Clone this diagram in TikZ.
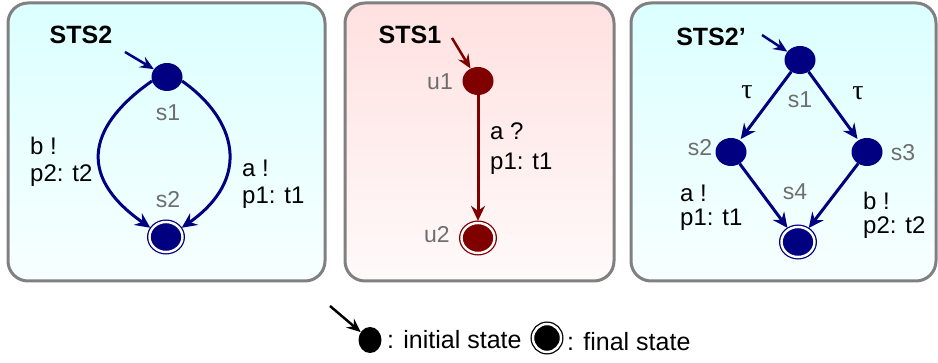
\documentclass[tikz,border=0pt]{standalone}
\usepackage{fontspec}
\setmainfont{Liberation Sans}
\newfontfamily\taufont{Liberation Serif}
\usetikzlibrary{arrows.meta,shapes.geometric}
\definecolor{stsblue}{HTML}{000080}
\definecolor{stsred}{HTML}{800000}
\definecolor{lblgray}{HTML}{6E6E6E}
\definecolor{boxgray}{HTML}{808080}
\begin{document}
\begin{tikzpicture}[x=1pt,y=1pt,
  panel/.style={draw=boxgray,line width=3pt,rounded corners=20pt},
  st/.style={ellipse,fill=#1,minimum width=31pt,minimum height=28pt,inner sep=0pt},
  fin/.style={ellipse,fill=#1,draw=#1,double=white,line width=1.3pt,double distance=2.4pt,minimum width=33pt,minimum height=30pt,inner sep=0pt},
  tr/.style={line width=3pt,shorten >=1.5pt,-{Stealth[length=15pt,width=14pt,inset=5pt]}},
  init/.style={line width=2.5pt,-{Stealth[length=14pt,width=12pt,inset=5pt]}},
  title/.style={font=\fontsize{25}{30}\selectfont\bfseries,inner sep=0pt},
  lbl/.style={font=\fontsize{24}{27}\selectfont,align=left,anchor=north west,inner sep=0pt},
  sname/.style={font=\fontsize{23}{26}\selectfont,text=lblgray,inner sep=0pt},
  legend/.style={font=\fontsize{25}{28}\selectfont,anchor=west,inner sep=0pt}]
\useasboundingbox (0,0) rectangle (938,-363);
% panels
\path[panel,top color=cyan!14,bottom color=cyan!3] (8,-3) rectangle (325,-281);
\path[panel,top color=red!12,bottom color=red!2] (345,-3) rectangle (614,-281);
\path[panel,top color=cyan!14,bottom color=cyan!3] (631,-3) rectangle (936,-281);
% STS2
\node[title] (t2) at (81,-35) {STS2};
\node[st=stsblue] (a1) at (167,-77) {};
\node[fin=stsblue] (a2) at (166,-237) {};
\node[sname] (a1n) at (168,-113) {s1};
\node[sname] (a2n) at (168,-200) {s2};
\coordinate (a0) at (125,-52);
\draw[init,stsblue] (a0)--(a1);
\draw[tr,stsblue] (a1.195) .. controls +(215:73) and +(145:96) .. (a2.150);
\draw[tr,stsblue] (a1.-15) .. controls +(-35:66) and +(35:88) .. (a2.30);
\node[lbl] (ab) at (30,-137) {b !\\p2: t2};
\node[lbl] (aa) at (242,-160) {a !\\p1: t1};
% STS1
\node[title] (t1) at (410,-35) {STS1};
\node[st=stsred] (u1) at (478,-81) {};
\node[fin=stsred] (u2) at (478,-238) {};
\node[sname] (u1n) at (440,-82) {u1};
\node[sname] (u2n) at (437,-235) {u2};
\coordinate (u0) at (452,-38);
\draw[init,stsred] (u0)--(u1);
\draw[tr,stsred] (u1)--(u2);
\node[lbl] (ua) at (490,-123) {a ?\\[3pt]p1: t1};
% STS2'
\node[title] (t3) at (711,-37) {STS2'};
\node[st=stsblue] (b1) at (800,-60) {};
\node[st=stsblue] (b2) at (731,-152) {};
\node[st=stsblue] (b3) at (867,-152) {};
\node[fin=stsblue] (b4) at (798,-242) {};
\node[sname] (b1n) at (800,-100) {s1};
\node[sname] (b2n) at (700,-148) {s2};
\node[sname] (b3n) at (903,-153) {s3};
\node[sname] (b4n) at (795,-192) {s4};
\coordinate (b0) at (762,-35);
\draw[init,stsblue] (b0)--(b1);
\draw[tr,stsblue] (b1)--(b2);
\draw[tr,stsblue] (b1)--(b3);
\draw[tr,stsblue] (b2)--(b4);
\draw[tr,stsblue] (b3)--(b4);
\node[font=\fontsize{28}{30}\taufont] (tl) at (747,-92) {τ};
\node[font=\fontsize{28}{30}\taufont] (tr) at (858,-93) {τ};
\node[lbl] (ba) at (680,-185) {a !\\[-3pt]p1: t1};
\node[lbl] (bb) at (863,-192) {b !\\[-3pt]p2: t2};
% legend
\coordinate (l0) at (330,-306);
\node[ellipse,fill=black,minimum width=23pt,minimum height=26pt,inner sep=0pt] (l1) at (370,-340) {};
\draw[init,black] (l0)--(l1);
\node[legend] (l1t) at (387,-340) {: initial state};
\node[circle,fill=black,draw=black,double=white,line width=1.3pt,double distance=2.4pt,minimum size=28pt,inner sep=0pt] (l2) at (547,-338) {};
\node[legend] (l2t) at (567,-342) {: final state};
\end{tikzpicture}
\end{document}
